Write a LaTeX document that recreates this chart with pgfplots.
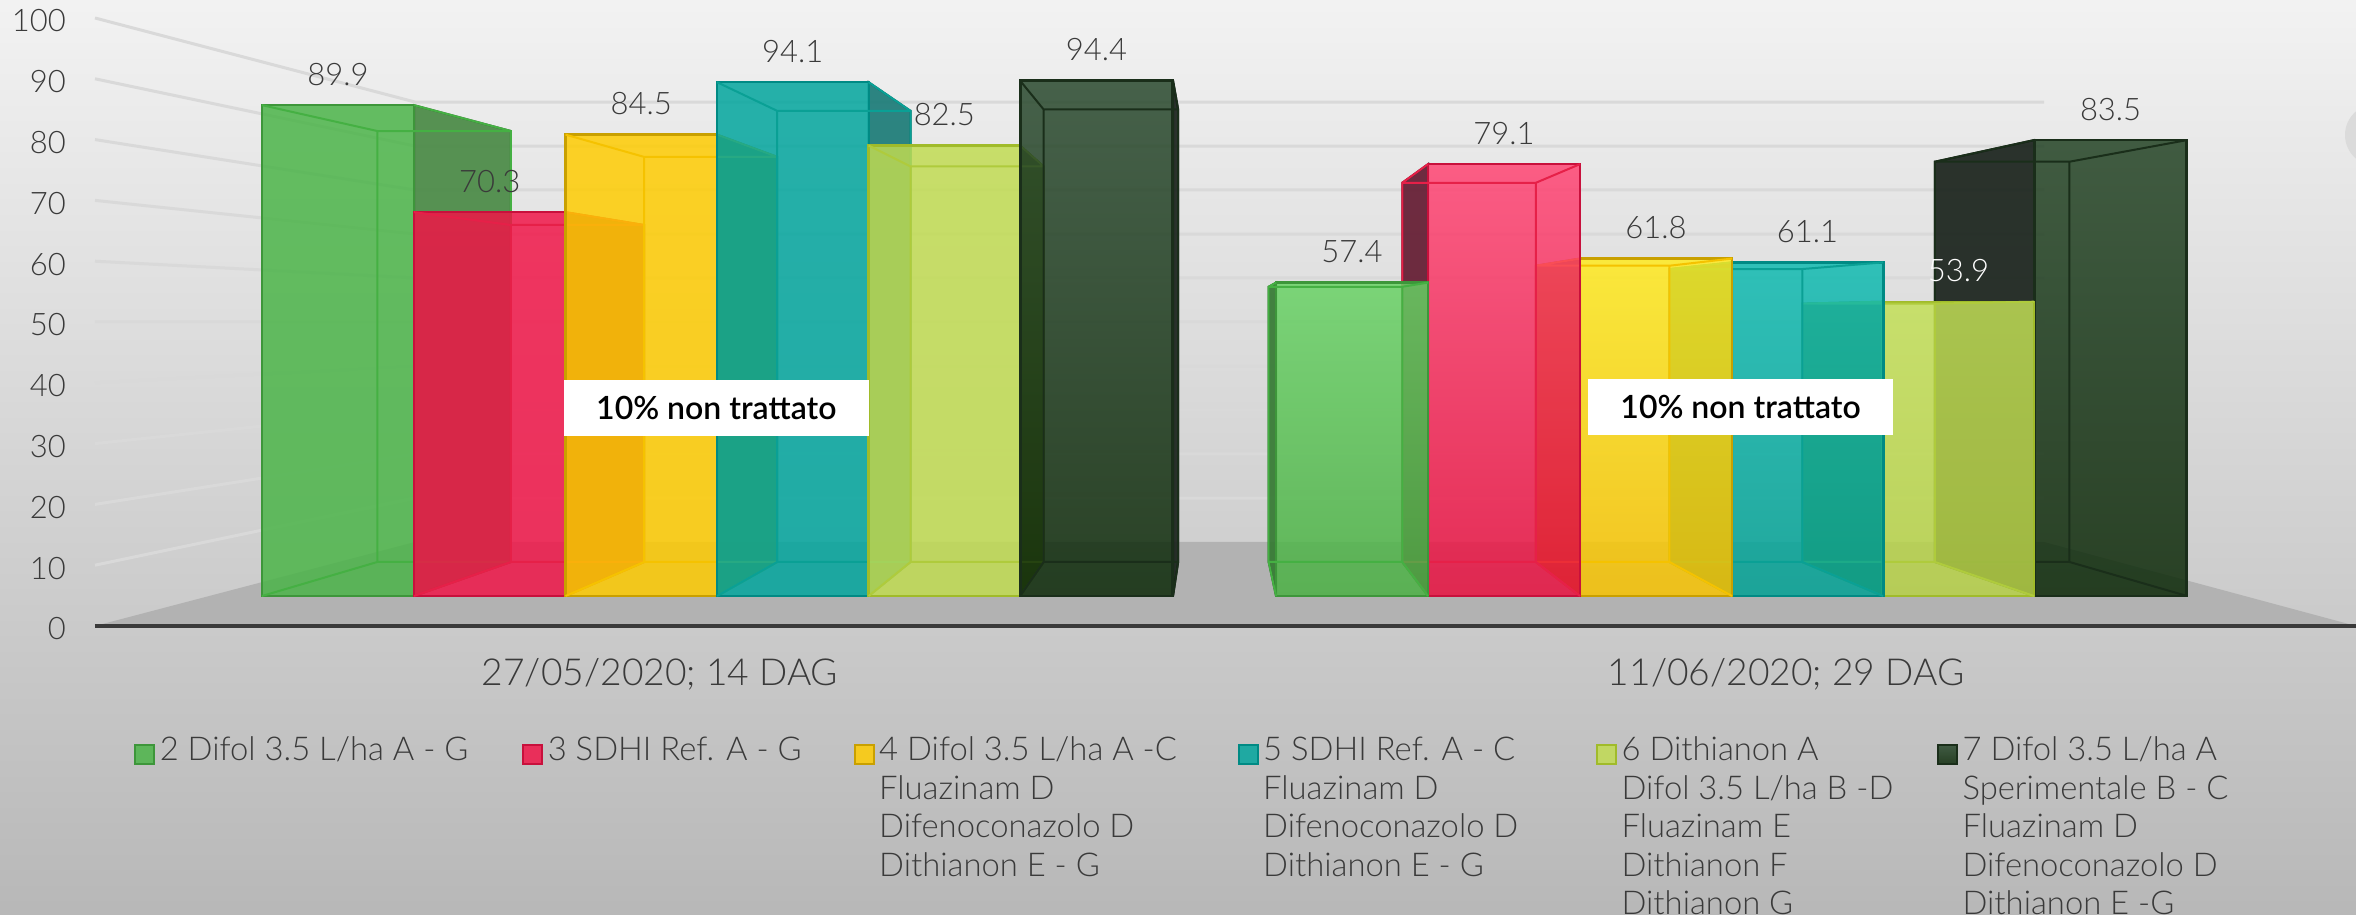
\documentclass[border=0pt]{standalone}
\usepackage{fontspec}
\usepackage{pgfplots}
\pgfplotsset{compat=1.18}
\setmainfont{Lato}[UprightFont=* Light]
\newfontfamily\medfont{Lato}[UprightFont=* Semibold]
\definecolor{txt}{HTML}{3A3A3A}
\definecolor{sgreen}{HTML}{4A8A46}
\definecolor{sgreenb}{HTML}{357A33}
\definecolor{sred}{HTML}{A8203C}
\definecolor{sredb}{HTML}{641C32}
\definecolor{syel}{HTML}{A89000}
\definecolor{steal}{HTML}{1C7C78}
\definecolor{slime}{HTML}{6E8028}
\definecolor{sdark}{HTML}{1A231C}
\definecolor{egreen}{HTML}{45B043}
\definecolor{ered}{HTML}{E62048}
\definecolor{eyel}{HTML}{F5C200}
\definecolor{eteal}{HTML}{0AA095}
\definecolor{elime}{HTML}{AFCB3C}
\definecolor{edark}{HTML}{1A2E1A}
\newcommand\lgd[2]{\parbox[t]{#1pt}{\raggedright\leftskip=2.2pt\setlength\baselineskip{19.2pt}#2}}
\pgfplotsset{
 frontbar/.style={ybar, bar width=151.8, bar shift=0pt, fill opacity=.84, draw opacity=1, line width=1.2pt,
   nodes near coords, nodes near coords style={anchor=base, yshift=10pt, text=txt, fill opacity=1, text opacity=1, draw opacity=1,
     font=\fontsize{15.5}{18}\selectfont, /pgf/number format/assume math mode=true, /pgf/number format/fixed, /pgf/number format/fixed zerofill, /pgf/number format/precision=1},
   legend image code/.code={\draw[##1, line width=1pt] (0pt,-1.5pt) rectangle (9.5pt,8pt);}},
}
% side face: colour, xfront, xback, vfront, vback
\newcommand\sideface[5]{\addplot[forget plot, fill=#1, draw=#1!75!black, line width=1pt, fill opacity=.92, mark=none] coordinates {(#2,0) (#3,6.23) (#3,#5) (#2,#4) (#2,0)};}
% inner box edges: colour, x0, x1, xb0, xb1, vfront, vback
\newcommand\boxedges[7]{\addplot[forget plot, draw=#1, line width=1pt, mark=none, sharp plot, unbounded coords=jump] coordinates {(#4,6.23) (#5,6.23) (#5,#7) (#4,#7) (#4,6.23) (#4,nan) (#2,0) (#4,6.23) (#4,nan) (#3,0) (#5,6.23) (#5,nan) (#2,#6) (#4,#7) (#4,nan) (#3,#6) (#5,#7)};}
\begin{document}
\begin{tikzpicture}
\path[use as bounding box] (0,0) rectangle (1178pt,457.5pt);
\clip (0,0) rectangle (1178pt,457.5pt);
\shade[top color=white!95!black, bottom color=black!28!white] (0,0) rectangle (1178pt,457.5pt);
\fill[black!14!white] (1188pt,390pt) circle (15.5pt);
% wall axis: tick numbers, grid, floor
\begin{axis}[at={(47.5pt,144.5pt)}, anchor=south west, scale only axis, width=1130.5pt, height=313pt,
  xmin=95, xmax=2356, ymin=0, ymax=102.96, clip=false,
  axis line style={draw=none}, axis y line*=left, axis x line*=bottom, xtick=\empty,
  ytick={0,10,...,100}, tick style={draw=none}, tick label style={text=txt, font=\fontsize{15.5}{18}\selectfont},
  yticklabel style={xshift=-11pt, yshift=-1.5pt}, /pgf/number format/assume math mode=true]
\addplot[forget plot, fill=black!30!white, draw=none, mark=none] coordinates {(95,0) (415,13.82) (2044,13.82) (2356,0) (95,0)};
\addplot[forget plot, draw=black!15!white, line width=1.5pt, mark=none, sharp plot, unbounded coords=jump] coordinates {
 (95,100) (415,86.18) (2044,86.18) (2044,nan)
 (95,90) (415,78.94) (2044,78.94) (2044,nan)
 (95,80) (415,71.71) (2044,71.71) (2044,nan)
 (95,70) (415,64.47) (2044,64.47) (2044,nan)
 (95,60) (415,57.24) (2044,57.24) (2044,nan)
 (95,50) (415,50) (2044,50) (2044,nan)
 (95,40) (415,42.76) (2044,42.76) (2044,nan)
 (95,30) (415,35.52) (2044,35.52) (2044,nan)
 (95,20) (415,28.29) (2044,28.29) (2044,nan)
 (95,10) (415,21.05) (2044,21.05)};
\addplot[forget plot, draw=txt, line width=1.8pt, mark=none] coordinates {(95,0) (2356,0)};
\end{axis}
% bars axis
\begin{axis}[at={(0pt,159.5pt)}, anchor=south west, scale only axis, width=1178pt, height=298pt,
  xmin=0, xmax=2356, ymin=0, ymax=109.16, clip=false,
  axis line style={draw=none}, axis y line*=left, axis x line*=bottom, ytick=\empty,
  xtick={660,1786}, xticklabels={27/05/2020; 14 DAG, 11/06/2020; 29 DAG}, tick style={draw=none},
  xticklabel style={anchor=base, yshift=-44.75pt, text=txt, font=\fontsize{18.6}{22}\selectfont},
  legend style={at={(axis cs:134,-25.75)}, anchor=north west, draw=none, fill=none, text=txt, legend columns=6,
    font=\fontsize{16.4}{19}\selectfont, cells={anchor=base west}, nodes={inner sep=0pt}, column sep=0pt, row sep=0pt, inner sep=0pt}]
% side faces, group 1 (seen on the right)
\sideface{sgreen}{414}{510.9}{89.9}{85.16}
\sideface{sred}{565.5}{644.1}{70.3}{67.95}
\sideface{syel}{717}{777.2}{84.5}{80.42}
\sideface{steal}{868.6}{910.5}{94.1}{88.85}
\sideface{slime}{1020}{1043.6}{82.5}{78.67}
\sideface{sdark}{1173}{1178.1}{94.4}{89.11}
% side faces, group 2 (seen on the left)
\sideface{sgreenb}{1276}{1268.6}{57.4}{56.63}
\sideface{sredb}{1428}{1402.2}{79.1}{75.68}
\sideface{syel}{1580}{1535.8}{61.8}{60.49}
\sideface{steal}{1732}{1669.4}{61.1}{59.88}
\sideface{slime}{1883}{1802.2}{53.9}{53.55}
\sideface{sdark}{2034}{1934.9}{83.5}{79.54}
% group 1, left to right: front face, then its inner edges
\addplot[frontbar, top color={rgb,255:red,74;green,180;blue,71}, bottom color={rgb,255:red,74;green,180;blue,71}, draw={rgb,255:red,61;green,150;blue,58}] coordinates {(338,89.9)};
\addlegendentry{\lgd{183.5}{2 Difol 3.5 L/ha A - G}}
\boxedges{egreen}{262}{414}{377.3}{510.9}{89.9}{85.16}
\addplot[frontbar, top color={rgb,255:red,241;green,20;blue,71}, bottom color={rgb,255:red,241;green,20;blue,71}, draw={rgb,255:red,200;green,16;blue,60}] coordinates {(489.75,70.3)};
\addlegendentry{\lgd{155.2}{3 SDHI Ref. A - G}}
\boxedges{ered}{414}{565.5}{510.9}{644.1}{70.3}{67.95}
\addplot[frontbar, top color={rgb,255:red,255;green,204;blue,0}, bottom color={rgb,255:red,255;green,204;blue,0}, draw={rgb,255:red,201;green,160;blue,0}] coordinates {(641.25,84.5)};
\addlegendentry{\lgd{181.5}{4 Difol 3.5 L/ha A -C\\Fluazinam D\\Difenoconazolo D\\Dithianon E - G}}
\boxedges{eyel}{565.5}{717}{644.1}{777.2}{84.5}{80.42}
\addplot[frontbar, top color={rgb,255:red,0;green,165;blue,157}, bottom color={rgb,255:red,0;green,165;blue,157}, draw={rgb,255:red,0;green,138;blue,132}] coordinates {(792.8,94.1)};
\addlegendentry{\lgd{168.7}{5 SDHI Ref. A - C\\Fluazinam D\\Difenoconazolo D\\Dithianon E - G}}
\boxedges{eteal}{717}{868.6}{777.2}{910.5}{94.1}{88.85}
\addplot[frontbar, top color={rgb,255:red,193;green,220;blue,81}, bottom color={rgb,255:red,193;green,220;blue,81}, draw={rgb,255:red,160;green,187;blue,42}] coordinates {(944.3,82.5)};
\addlegendentry{\lgd{160}{6 Dithianon A\\Difol 3.5 L/ha B -D\\Fluazinam E\\Dithianon F\\Dithianon G}}
\boxedges{elime}{868.6}{1020}{910.5}{1043.6}{82.5}{78.67}
\addplot[frontbar, top color={rgb,255:red,39;green,71;blue,43}, bottom color={rgb,255:red,10;green,39;blue,6}, draw={rgb,255:red,26;green,46;blue,26}] coordinates {(1096.5,94.4)};
\addlegendentry{\lgd{170}{7 Difol 3.5 L/ha A\\Sperimentale B - C\\Fluazinam D\\Difenoconazolo D\\Dithianon E -G}}
\boxedges{edark}{1020}{1173}{1043.6}{1178.1}{94.4}{89.11}
% group 2, right to left: front face, then its inner edges
\addplot[frontbar, forget plot, top color={rgb,255:red,32;green,64;blue,34}, bottom color={rgb,255:red,10;green,39;blue,6}, draw={rgb,255:red,26;green,46;blue,26}] coordinates {(2110.5,83.5)};
\boxedges{edark}{2034}{2187}{1934.9}{2069.4}{83.5}{79.54}
\addplot[frontbar, forget plot, nodes near coords style={text=white}, top color={rgb,255:red,195;green,224;blue,86}, bottom color={rgb,255:red,183;green,210;blue,70}, draw={rgb,255:red,160;green,187;blue,42}] coordinates {(1958.3,53.9)};
\boxedges{elime}{1883}{2034}{1802.2}{1934.9}{53.9}{53.55}
\addplot[frontbar, forget plot, top color={rgb,255:red,14;green,186;blue,176}, bottom color={rgb,255:red,0;green,161;blue,148}, draw={rgb,255:red,0;green,138;blue,132}] coordinates {(1807.5,61.1)};
\boxedges{eteal}{1732}{1883}{1669.4}{1802.2}{61.1}{59.88}
\addplot[frontbar, forget plot, top color={rgb,255:red,255;green,234;blue,29}, bottom color={rgb,255:red,249;green,195;blue,0}, draw={rgb,255:red,201;green,160;blue,0}] coordinates {(1656,61.8)};
\boxedges{eyel}{1580}{1732}{1535.8}{1669.4}{61.8}{60.49}
\addplot[frontbar, forget plot, top color={rgb,255:red,255;green,67;blue,114}, bottom color={rgb,255:red,233;green,14;blue,62}, draw={rgb,255:red,200;green,16;blue,60}] coordinates {(1504,79.1)};
\boxedges{ered}{1428}{1580}{1402.2}{1535.8}{79.1}{75.68}
\addplot[frontbar, forget plot, top color={rgb,255:red,104;green,210;blue,100}, bottom color={rgb,255:red,74;green,176;blue,67}, draw={rgb,255:red,61;green,150;blue,58}] coordinates {(1352,57.4)};
\boxedges{egreen}{1276}{1428}{1268.6}{1402.2}{57.4}{56.63}
% annotations
\node[fill=white, minimum width=152.3pt, minimum height=28pt, inner sep=0pt, text=black, font=\medfont\fontsize{16}{18}\selectfont] at (axis cs:716.3,34.4) {10\% non trattato};
\node[fill=white, minimum width=152.5pt, minimum height=28pt, inner sep=0pt, text=black, font=\medfont\fontsize{16}{18}\selectfont] at (axis cs:1740.5,34.6) {10\% non trattato};
\end{axis}
\end{tikzpicture}
\end{document}
